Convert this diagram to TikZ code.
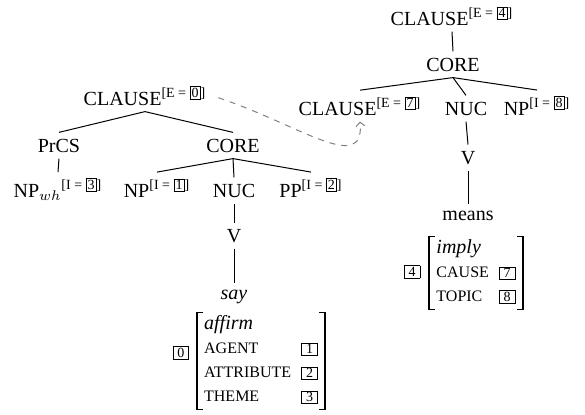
\documentclass[tikz,border=0pt]{standalone}
\usepackage{fontspec}
\setmainfont{Liberation Serif}
\usetikzlibrary{arrows.meta}

% boxed index numbers and small-cap like role names
\newcommand{\tagbox}[2][0pt]{{\setlength{\fboxsep}{0.6pt}\setlength{\fboxrule}{0.4pt}\fbox{\kern#1#2\kern#1}}}
\newcommand{\avmtag}[1]{{\scriptsize\tagbox[1.4pt]{#1}}}
\newcommand{\ixcat}[2]{#1\textsuperscript{[#2]}}
\newcommand{\role}[1]{{\footnotesize #1}}

\tikzset{
  cat/.style={anchor=base, inner sep=3pt},
  branch/.style={line width=0.5pt},
  bracket/.style={line width=0.8pt},
  avm/.style={inner xsep=3.5pt, inner ysep=0pt},
  corefline/.style={gray, line width=0.5pt, dash pattern=on 3pt off 3pt,
    shorten <=3pt, -{Straight Barb[length=2pt,width=4.5pt]}}
}

\begin{document}
\begin{tikzpicture}[x=0.5pt, y=-0.5pt]
    \useasboundingbox (0,0) rectangle (585,414);
    % Right tree: means
    \node[cat] (clause4) at (452,25) {\ixcat{CLAUSE}{E = \tagbox{4}}};
    \node[cat] (core4) at (453,71) {CORE};
    \node[cat] (clause7) at (360,115) {\ixcat{CLAUSE}{E = \tagbox{7}}};
    \node[cat] (nuc4) at (466,115) {NUC};
    \node[cat] (np8) at (537,115) {\ixcat{NP}{I = \tagbox{8}}};
    \node[cat] (v4) at (468,164) {V};
    \node[cat] (means) at (468,220) {means};
    % Left tree: say
    \node[cat] (clause0) at (145,105) {\ixcat{CLAUSE}{E = \tagbox{0}}};
    \node[cat] (prcs) at (59,152) {PrCS};
    \node[cat] (core0) at (233,152) {CORE};
    \node[cat] (npwh) at (58,197) {\ixcat{NP$_{wh}$}{I = \tagbox{3}}};
    \node[cat] (np1) at (157,197) {\ixcat{NP}{I = \tagbox{1}}};
    \node[cat] (nuc0) at (234,197) {NUC};
    \node[cat] (pp2) at (311,197) {\ixcat{PP}{I = \tagbox{2}}};
    \node[cat] (v0) at (234,242) {V};
    \node[cat] (say) at (234,299) {\textit{say}};
    % Draw the branches
    \foreach \p/\c in {clause4/core4, core4/clause7, core4/nuc4, core4/np8,
        nuc4/v4, v4/means, clause0/prcs, clause0/core0, prcs/npwh,
        core0/np1, core0/nuc0, core0/pp2, nuc0/v0, v0/say} {
        \draw[branch] (\p.south) -- (\c.north);
    }
    % Semantic representations
    \node[avm] (avm0) at (261,361) {\begin{tabular}{@{}l@{\hspace{5pt}}c@{}}
        \textit{affirm} & \\
        \role{AGENT} & \avmtag{1}\\
        \role{ATTRIBUTE} & \avmtag{2}\\
        \role{THEME} & \avmtag{3}
    \end{tabular}};
    \node[avm] (avm4) at (476,273) {\begin{tabular}{@{}l@{\hspace{5pt}}c@{}}
        \textit{imply} & \\
        \role{CAUSE} & \avmtag{7}\\
        \role{TOPIC} & \avmtag{8}
    \end{tabular}};
    \node[inner sep=0pt] (tag0) at (181,353) {\avmtag{0}};
    \node[inner sep=0pt] (tag4) at (412,272) {\avmtag{4}};
    \foreach \m in {avm0, avm4} {
        \draw[bracket] ([xshift=3pt]\m.north west) -- (\m.north west) -- (\m.south west) -- ([xshift=3pt]\m.south west);
        \draw[bracket] ([xshift=-3pt]\m.north east) -- (\m.north east) -- (\m.south east) -- ([xshift=-3pt]\m.south east);
    }
    % Dashed link to the embedded clause
    \draw[corefline] (clause0.east) .. controls (300,125) and (365,175) .. (clause7.south);
\end{tikzpicture}
\end{document}
